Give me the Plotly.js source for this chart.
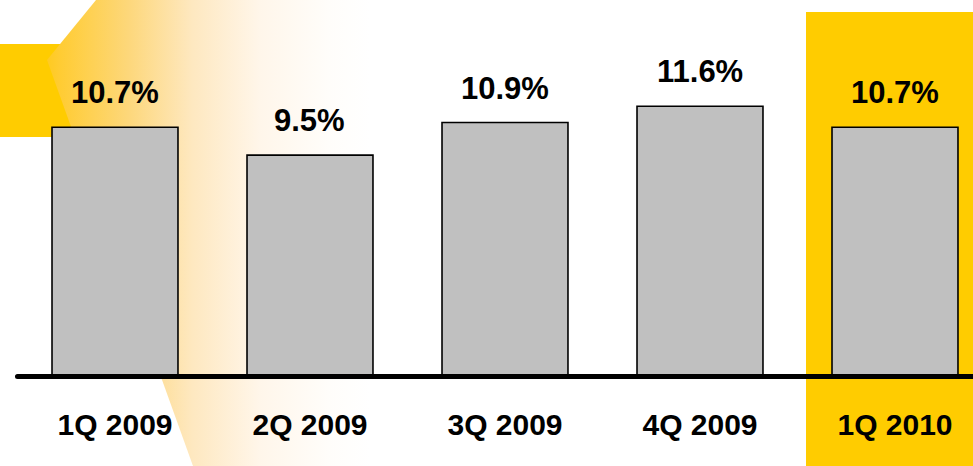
<!DOCTYPE html>
<html>
<head>
<meta charset="utf-8">
<script src="https://cdn.plot.ly/plotly-3.0.1.min.js"></script>
<style>
  html, body { margin: 0; padding: 0; background: #ffffff; }
  #chart { width: 973px; height: 466px; }
</style>
</head>
<body>
<div id="chart"></div>
<script>
// Quarterly ratio, in percent
const quarters = ['1Q 2009', '2Q 2009', '3Q 2009', '4Q 2009', '1Q 2010'];
const ratios = [10.7, 9.5, 10.9, 11.6, 10.7];
const valueLabels = ratios.map(v => v.toFixed(1) + '%');

const YELLOW = '#FFCC00';
const FONT = 'Liberation Sans, Arial, Helvetica, sans-serif';
const PLOT_BOTTOM = 0.1921; // bar area starts at the baseline

// Background ribbon drawn on a full-page pixel grid (x: 0..973, y: 0..466 top-down)
const ribbon = {
  type: 'scatter',
  xaxis: 'x', yaxis: 'y',
  x: [96, 47, 193, 370, 370],
  y: [0, 60, 466, 466, 0],
  mode: 'none',
  fill: 'toself',
  fillgradient: {
    type: 'horizontal',
    start: 47,
    stop: 370,
    colorscale: [
      [0.00, '#FFCA20'],
      [0.04, '#FFCC33'],
      [0.25, '#FDD77A'],
      [0.45, '#FEE8C0'],
      [0.66, '#FFF6EA'],
      [0.87, '#FFFDFA'],
      [1.00, '#FFFFFF']
    ]
  },
  hoverinfo: 'skip',
  showlegend: false
};

const bars = {
  type: 'bar',
  xaxis: 'x2', yaxis: 'y2',
  x: quarters,
  y: ratios,
  marker: { color: '#C0C0C0', line: { color: '#000000', width: 1.6 } },
  hoverinfo: 'skip',
  showlegend: false
};

const labelAnnotations = quarters.map((q, i) => ({
  xref: 'x2', yref: 'y2',
  x: q, y: ratios[i],
  text: valueLabels[i],
  showarrow: false,
  yanchor: 'bottom',
  yshift: 15,
  font: { family: FONT, size: 31, color: '#000000', weight: 'bold' }
}));

const layout = {
  width: 973,
  height: 466,
  margin: { l: 0, r: 0, t: 0, b: 0, pad: 0 },
  paper_bgcolor: '#ffffff',
  plot_bgcolor: 'rgba(0,0,0,0)',
  showlegend: false,
  bargap: 0.354,
  xaxis: { domain: [0, 1], range: [0, 973], visible: false, fixedrange: true },
  yaxis: { domain: [0, 1], range: [466, 0], visible: false, fixedrange: true },
  xaxis2: {
    anchor: 'y2',
    domain: [0, 1],
    type: 'category',
    range: [-0.5897, 4.4],
    showgrid: false,
    zeroline: false,
    showline: false,
    ticks: '',
    ticklabelstandoff: 28,
    tickfont: { family: FONT, size: 30, color: '#000000', weight: 'bold' },
    fixedrange: true
  },
  yaxis2: {
    anchor: 'x2',
    domain: [PLOT_BOTTOM, 1],
    range: [0, 16.16],
    visible: false,
    fixedrange: true
  },
  shapes: [
    // solid tab at the upper left
    { type: 'rect', xref: 'x', yref: 'y', x0: 0, x1: 80, y0: 44, y1: 137,
      fillcolor: YELLOW, line: { width: 0 }, layer: 'below' },
    // highlight panel behind the latest quarter
    { type: 'rect', xref: 'x', yref: 'y', x0: 806, x1: 980, y0: 12, y1: 470,
      fillcolor: YELLOW, line: { width: 0 }, layer: 'below' },
    // baseline
    { type: 'line', xref: 'x2', yref: 'paper', x0: -0.5, x1: 4.6,
      y0: PLOT_BOTTOM, y1: PLOT_BOTTOM,
      line: { color: '#000000', width: 5 }, layer: 'above' },
    // rounded left end of the baseline
    { type: 'circle', xref: 'x2', yref: 'paper', xsizemode: 'pixel', ysizemode: 'pixel',
      xanchor: -0.5, yanchor: PLOT_BOTTOM, x0: -2.5, x1: 2.5, y0: -2.5, y1: 2.5,
      fillcolor: '#000000', line: { width: 0 }, layer: 'above' }
  ],
  annotations: labelAnnotations
};

Plotly.newPlot('chart', [ribbon, bars], layout, { displayModeBar: false, staticPlot: true });
</script>
</body>
</html>
